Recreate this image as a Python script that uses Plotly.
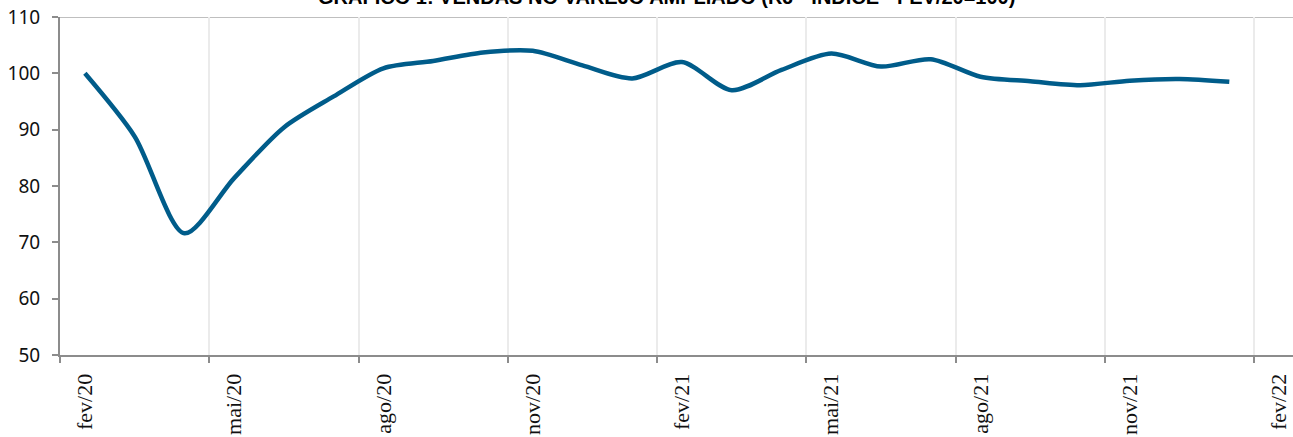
import plotly.graph_objects as go

months = ["fev/20", "mar/20", "abr/20", "mai/20", "jun/20", "jul/20", "ago/20", "set/20",
          "out/20", "nov/20", "dez/20", "jan/21", "fev/21", "mar/21", "abr/21", "mai/21",
          "jun/21", "jul/21", "ago/21", "set/21", "out/21", "nov/21", "dez/21", "jan/22"]
values = [100.0, 88.8, 71.6, 81.4, 90.4, 95.9, 100.9, 102.2, 103.7, 104.0, 101.4, 99.1,
          102.0, 97.0, 100.6, 103.5, 101.2, 102.5, 99.4, 98.6, 97.9, 98.7, 99.0, 98.5]
tick_labels = ["fev/20", "mai/20", "ago/20", "nov/20", "fev/21", "mai/21", "ago/21", "nov/21", "fev/22"]
y_ticks = [50, 60, 70, 80, 90, 100, 110]
title = "GRÁFICO 1: VENDAS NO VAREJO AMPLIADO (RJ - ÍNDICE - FEV/20=100)"

x_idx = list(range(len(months)))
tick_pos = [3 * i for i in range(len(tick_labels))]
grid_pos = [p - 0.5 for p in tick_pos]

fig = go.Figure()
fig.add_trace(go.Scatter(
    x=x_idx, y=values, mode="lines",
    line=dict(color="#005C8A", width=4.5, shape="spline", smoothing=0.8),
    text=months, hoverinfo="text+y", showlegend=False,
))

fig.update_layout(
    width=1293, height=437,
    margin=dict(l=60, r=0, t=17, b=82),
    paper_bgcolor="white", plot_bgcolor="white",
    xaxis=dict(
        range=[-0.5, 24.28],
        tickmode="array", tickvals=tick_pos, ticktext=tick_labels,
        tickangle=-90, ticks="", showgrid=False, zeroline=False,
        showline=True, linecolor="#8c8c8c", linewidth=2,
        tickfont=dict(family="Liberation Serif", size=22, color="#111111"),
        ticklabelstandoff=8,
        minor=dict(tickmode="array", tickvals=grid_pos, showgrid=True,
                   gridcolor="#ebebeb", gridwidth=2,
                   ticks="outside", ticklen=6, tickcolor="#8c8c8c", tickwidth=2),
    ),
    yaxis=dict(
        range=[50, 110], tickmode="array", tickvals=y_ticks,
        showgrid=False, zeroline=False,
        showline=True, linecolor="#8c8c8c", linewidth=2,
        ticks="outside", ticklen=6, tickcolor="#8c8c8c", tickwidth=2,
        tickfont=dict(family="Noto Sans", size=19, color="#111111"),
        ticklabelstandoff=8,
    ),
    shapes=[dict(type="line", xref="paper", yref="y", x0=0, x1=1, y0=110, y1=110,
                 line=dict(color="#bfbfbf", width=2), layer="below")],
    annotations=[dict(text="<b>" + title + "</b>", xref="paper", yref="paper",
                      x=0.492, y=1.021, xanchor="center", yanchor="bottom",
                      showarrow=False,
                      font=dict(family="Liberation Sans", size=20, color="#000000"))],
)

fig.write_html("out.html")
